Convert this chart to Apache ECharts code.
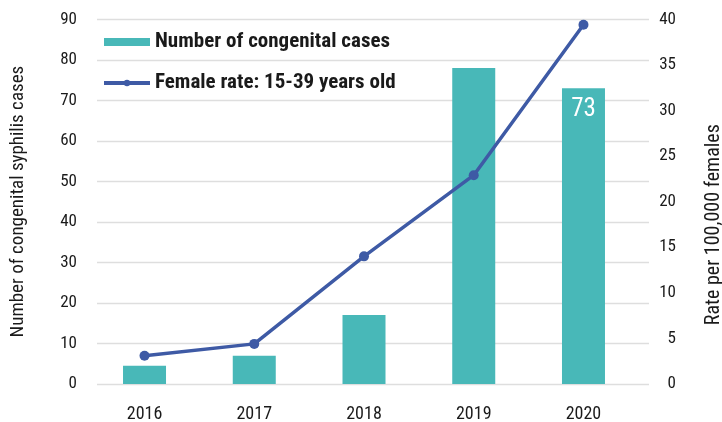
<!DOCTYPE html>
<html>
<head>
<meta charset="utf-8">
<script src="https://cdn.jsdelivr.net/npm/echarts@6/dist/echarts.min.js"></script>
<style>html,body{margin:0;padding:0;background:#fff}#c{width:722px;height:422px}</style>
</head>
<body>
<div id="c"></div>
<script>
const years = [2016, 2017, 2018, 2019, 2020];
const cases = [4.5, 7, 17, 78, 73];
const femaleRate = [3.1, 4.4, 14.0, 22.9, 39.4];
const leftTicks = [0, 10, 20, 30, 40, 50, 60, 70, 80, 90];
const rightTicks = [0, 5, 10, 15, 20, 25, 30, 35, 40];
const seriesNames = ['Number of congenital cases', 'Female rate: 15-39 years old'];
const leftAxisName = 'Number of congenital syphilis cases';
const rightAxisName = 'Rate per 100,000 females';
const labelledValue = 73;

const FONT = "'Liberation Sans Narrow', 'Roboto Condensed', 'DejaVu Sans Condensed', Roboto, sans-serif";
const TEAL = '#48B8B8';
const BLUE = '#3E5AA5';
const chart = echarts.init(document.getElementById('c'), null, {renderer: 'canvas'});
chart.setOption({
  animation: false,
  textStyle: {fontFamily: FONT},
  grid: {left: 97, right: 73, top: 19.3, bottom: 38, containLabel: false, outerBoundsMode: 'none'},
  legend: {
    orient: 'vertical', left: 97, top: 25,
    itemWidth: 46, itemHeight: 8, itemGap: 17,
    textStyle: {fontFamily: FONT, fontSize: 21, fontWeight: 'bold', color: '#1a1a1a', lineHeight: 24},
    data: [
      {name: seriesNames[0], icon: 'rect'},
      {name: seriesNames[1], lineStyle: {width: 4, color: BLUE}}
    ]
  },
  xAxis: {
    type: 'value', min: 2015.567, max: 2020.597,
    splitLine: {show: false},
    axisLine: {show: false}, axisTick: {show: false},
    axisLabel: {customValues: years, formatter: v => String(Math.round(v)), fontSize: 18, color: '#1a1a1a', margin: 21, fontFamily: FONT}
  },
  yAxis: [{
    type: 'value', min: leftTicks[0], max: leftTicks[leftTicks.length - 1], interval: 10,
    name: leftAxisName, nameLocation: 'middle', nameGap: 69,
    nameTextStyle: {fontSize: 19, color: '#1a1a1a', fontFamily: FONT},
    axisLine: {show: false}, axisTick: {show: false},
    axisLabel: {fontSize: 17, color: '#1a1a1a', margin: 20, fontFamily: FONT},
    splitLine: {lineStyle: {color: '#dedede', width: 1.3}}
  }, {
    type: 'value', min: rightTicks[0], max: rightTicks[rightTicks.length - 1], interval: 5,
    name: rightAxisName, nameLocation: 'middle', nameGap: 55,
    nameTextStyle: {fontSize: 20, color: '#1a1a1a', fontFamily: FONT, padding: [0, 46, 0, 0]},
    axisLine: {show: false}, axisTick: {show: false},
    axisLabel: {fontSize: 17, color: '#1a1a1a', margin: 27, align: 'right', fontFamily: FONT},
    splitLine: {show: false}
  }],
  series: [{
    name: seriesNames[0], type: 'bar', yAxisIndex: 0, barWidth: 43,
    itemStyle: {color: TEAL},
    data: years.map((y, i) => [y, cases[i]]),
    label: {
      show: true, position: 'insideTop', distance: 9,
      color: '#fff', fontSize: 25, fontFamily: FONT,
      formatter: p => (p.value[1] === labelledValue ? String(labelledValue) : '')
    }
  }, {
    name: seriesNames[1], type: 'line', yAxisIndex: 1, z: 5,
    symbol: 'circle', symbolSize: 10,
    lineStyle: {color: BLUE, width: 3.5}, itemStyle: {color: BLUE},
    data: years.map((y, i) => [y, femaleRate[i]])
  }]
});
</script>
</body>
</html>
